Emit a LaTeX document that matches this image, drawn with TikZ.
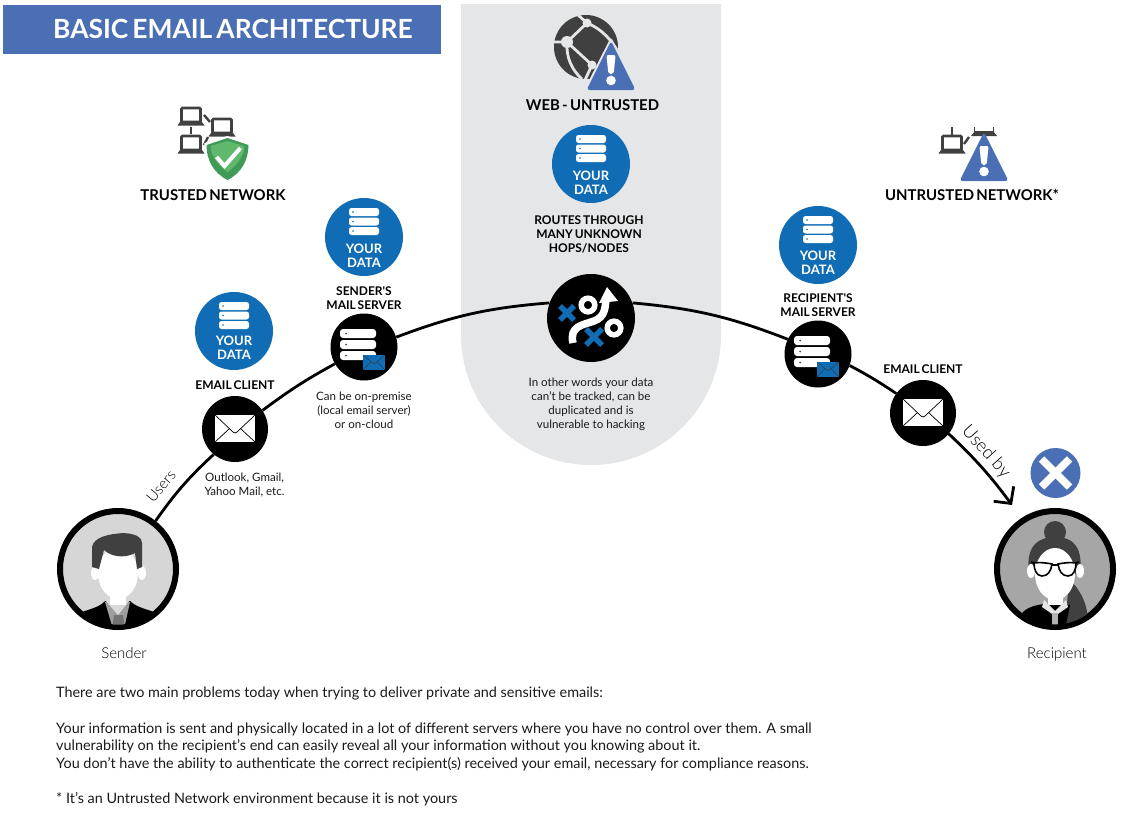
\documentclass[tikz,border=0pt]{standalone}
\usepackage{fontspec}
\setmainfont{Lato}
\newfontfamily\latolight{Lato Light}
\newfontfamily\latosemi[WordSpace=0.62]{Lato Bold}
\usetikzlibrary{arrows.meta}
\definecolor{bluedata}{HTML}{106DB5}
\definecolor{bluehead}{HTML}{4A6FB5}
\definecolor{panelgray}{HTML}{E5E6E8}
\definecolor{icondark}{HTML}{404040}
\definecolor{shieldgreen}{HTML}{5FB86C}
\definecolor{shielddark}{HTML}{3F9A57}
\newcommand{\fs}[1]{\fontsize{#1}{#1}\selectfont}
\tikzset{
 x=1pt,y=-1pt,
 datacircle/.style={circle,fill=bluedata,minimum size=78pt,inner sep=0pt},
 blackcircle/.style={circle,fill=black,minimum size=66pt,inner sep=0pt},
 person/.style={circle,draw=black,line width=6pt,minimum size=116pt,inner sep=0pt},
 link/.style={draw=black,line width=2.8pt},
 boldlabel/.style={font=\fs{12}\latosemi,align=center,text=black,inner sep=0pt,execute at begin node={\baselineskip=14pt}},
 smalllabel/.style={font=\fs{11.55},align=center,text=black!90,inner sep=0pt,execute at begin node={\baselineskip=14pt}},
 headlabel/.style={font=\fs{14.9}\latosemi,text=black,inner sep=0pt},
 lightlabel/.style={font=\fs{15}\latolight,text=black,inner sep=0pt},
 bodytext/.style={font=\fs{14.4},anchor=west,text=black!90,inner sep=0pt},
 yourdata/.style={font=\fs{13}\bfseries,text=white,align=center,inner sep=0pt,execute at begin node={\baselineskip=14pt}},
 pics/databars/.style={code={
   \foreach \yy in {-29,-19.5,-10}{\fill[white,rounded corners=2.5pt] (-15,\yy) rectangle (15,\yy+8);
     \fill[bluedata] (-11,\yy+4) circle[radius=0.8pt];}
 }},
 pics/serverbars/.style={code={
   \foreach \yy in {-18,-7,4}{\fill[white,rounded corners=3pt] (-24,\yy) rectangle (12,\yy+9);
     \fill[black!70] (-18,\yy+4.5) circle[radius=1pt];}
   \fill[bluedata] (-1,8) rectangle (21,23);
   \draw[black!80,line width=.4pt] (-1,8) -- (10,17) -- (21,8) (-1,23) -- (7,14.5) (21,23) -- (13,14.5);
 }},
 pics/envelope/.style={code={
   \fill[white] (-20,-14) rectangle (20,13);
   \draw[black,line width=.7pt] (-20,-14) -- (-2,3) -- (0,4) -- (2,3) -- (20,-14) (-20,13) -- (-6,0) (20,13) -- (6,0);
 }},
 pics/laptop/.style={code={
   \draw[icondark,line width=2.6pt,fill=white,rounded corners=1pt] (-9.5,-9) rectangle (9.5,5);
   \fill[icondark] (-11,5) -- (11,5) -- (13.5,8.5) -- (-13.5,8.5) -- cycle;
 }},
 pics/warn/.style={code={
   \fill[bluehead,rounded corners=3pt] (0,-3) -- (24.5,46) -- (-24.5,46) -- cycle;
   \fill[white,rounded corners=2pt] (-4.6,11) -- (4.6,11) -- (2.6,30) -- (-2.6,30) -- cycle;
   \fill[white] (0,36.5) circle[radius=4.8pt];
 }}
}
\begin{document}
\begin{tikzpicture}
\useasboundingbox (0,0) rectangle (1124,819);
% header
\fill[bluehead] (3,5) rectangle (441,54);
\node[font=\fs{26.4}\latosemi,text=white,inner sep=0pt,anchor=west] (title) at (53,28.5) {BASIC EMAIL ARCHITECTURE};
% panel
\fill[panelgray] (461,4) -- (721,4) -- (721,335) arc[start angle=0,end angle=-180,radius=130pt] -- cycle;

% nodes
\node[person,fill=black!16] (sender) at (118,569) {};
\node[person,fill=black!35] (recipient) at (1055,569) {};
\node[blackcircle] (clienta) at (235,429) {};
\node[blackcircle,minimum size=67pt] (servera) at (364,347) {};
\node[blackcircle,minimum size=88pt] (hub) at (591,318) {};
\node[blackcircle,minimum size=67pt] (serverb) at (818,354) {};
\node[blackcircle] (clientb) at (923,413) {};
\node[datacircle] (dataa) at (234,331) {};
\node[datacircle] (datab) at (364,237) {};
\node[datacircle] (datac) at (591,164) {};
\node[datacircle] (datad) at (818,245) {};
\coordinate (tip) at (1012,505);

% connectors
\draw[link] (sender.52) to[bend left=6] (clienta.230);
\draw[link] (clienta.34) to[bend left=4] (servera.210);
\draw[link] (servera.17) to[bend left=8] (hub.160);
\draw[link] (hub.20) to[bend left=8] (serverb.154);
\draw[link] (serverb.-20) to[bend left=3] (clientb.144);
\draw[link,-{Straight Barb[length=12pt,width=25pt,line width=2.8pt]}] (clientb.-39) to[bend left=5] (tip);

% icons on nodes
\foreach \c in {dataa,datab,datac,datad}{\path (\c) pic {databars};}
\node[yourdata] (tdataa) at (234,348) {YOUR\\DATA};
\node[yourdata] (tdatab) at (364,256) {YOUR\\DATA};
\node[yourdata] (tdatac) at (591,183) {YOUR\\DATA};
\node[yourdata] (tdatad) at (818,263) {YOUR\\DATA};
\path (clienta) pic {envelope};
\path (clientb) pic {envelope};
\path (servera) pic {serverbars};
\path (serverb) pic {serverbars};

% hub icon
\begin{scope}[shift={(591,318)}]
 \draw[white,line width=7.5pt] (-18,25) .. controls (-22,8) and (-8,7) .. (3,3) .. controls (14,-1) and (14,-10) .. (15,-18);
 \fill[white] (16,-31) -- (27,-17) -- (8,-15) -- cycle;
 \draw[white,line width=5.5pt] (-3,-13) circle[radius=6.8pt];
 \draw[white,line width=5.5pt] (23,10) circle[radius=6.8pt];
 \draw[bluedata,line width=5.5pt] (-31,-12) -- (-17,2) (-17,-12) -- (-31,2);
 \draw[bluedata,line width=5.5pt] (-5,11) -- (11,27) (11,11) -- (-5,27);
\end{scope}

% sender avatar
\begin{scope}
 \clip (118,569) circle[radius=55.5pt];
 \begin{scope}[shift={(118,569)}]
  \fill[black] (-36,43) .. controls (-28,40) and (-18,38) .. (-13,32) -- (12,32) .. controls (18,38) and (28,40) .. (36,43) -- (60,60) -- (-60,60) -- cycle;
  \fill[black!38] (-13,33) -- (-5,60) -- (6,60) -- (12,33) -- cycle;
  \fill[black!55] (-4,46) -- (5,46) -- (7,60) -- (-6,60) -- cycle;
  \fill[black!15] (-13,31) -- (0,46) -- (12,31) -- cycle;
  \fill[white] (-23,4) ellipse[x radius=4pt,y radius=7pt];
  \fill[white] (24,4) ellipse[x radius=4pt,y radius=7pt];
  \fill[white] (-8,18) rectangle (8,36);
  \fill[white] (0,4) ellipse[x radius=20pt,y radius=26pt];
  \fill[icondark] (-19,0) -- (-26,-2) -- (-26,-22) .. controls (-24,-32) and (-10,-35) .. (6,-36) .. controls (18,-35) and (24,-32) .. (24,-26) -- (24,-2) -- (19,0) -- (17,-16) .. controls (10,-12) and (-4,-10) .. (-14,-19) -- cycle;
 \end{scope}
\end{scope}
% recipient avatar
\begin{scope}
 \clip (1055,569) circle[radius=55.5pt];
 \begin{scope}[shift={(1055,569)}]
  \fill[icondark] (0,-37) circle[radius=11pt];
  \fill[icondark] (-26,5) .. controls (-30,-25) and (-15,-32) .. (0,-32) .. controls (20,-32) and (28,-20) .. (25,5) -- cycle;
  \fill[icondark] (14,10) .. controls (30,25) and (35,45) .. (32,60) -- (10,60) -- cycle;
  \fill[black] (-32,43) .. controls (-25,36) and (-14,36) .. (-8,34) -- (15,36) -- (10,60) -- (-45,60) -- cycle;
  \fill[white] (-7,20) rectangle (8,36);
  \fill[black!10] (-11,31) -- (0,42) -- (11,31) -- (13,38) -- (0,47) -- (-13,38) -- cycle;
  \fill[black!30] (-3,44) -- (3,44) -- (3,60) -- (-3,60) -- cycle;
  \fill[white] (-24,2) ellipse[x radius=4pt,y radius=7pt];
  \fill[white] (25,2) ellipse[x radius=4pt,y radius=7pt];
  \fill[white] (0,5) ellipse[x radius=20pt,y radius=26pt];
  \draw[black,line width=1.6pt,fill=white] (-21,-6) .. controls (-15,-7) and (-8,-6) .. (-3,-5) .. controls (-4,2) and (-7,7) .. (-13,7) .. controls (-19,7) and (-21,0) .. (-21,-6) -- cycle;
  \draw[black,line width=1.6pt,fill=white] (21,-6) .. controls (15,-7) and (8,-6) .. (3,-5) .. controls (4,2) and (7,7) .. (13,7) .. controls (19,7) and (21,0) .. (21,-6) -- cycle;
  \draw[black,line width=1.6pt] (-3,-4) -- (3,-4) (-21,-6) -- (-24,-7) (21,-6) -- (24,-7);
 \end{scope}
\end{scope}

% trusted icon
\path (191,117) pic {laptop};
\path (222,128) pic {laptop};
\path (191,145) pic {laptop};
\draw[icondark,line width=2.4pt] (191,127) -- (191,134);
\draw[icondark,line width=2.4pt] (204,115) -- (210,122);
\draw[icondark,line width=2.4pt] (204,145) -- (208,137);
\begin{scope}[shift={(227.5,158)}]
 \fill[white] (0,-22) -- (23,-15) .. controls (24,2) and (16,17) .. (0,25) .. controls (-16,17) and (-24,2) .. (-23,-15) -- cycle;
 \fill[shielddark] (0,-20) -- (21,-13) .. controls (21,2) and (14,15) .. (0,22) .. controls (-14,15) and (-21,2) .. (-21,-13) -- cycle;
 \fill[shieldgreen] (0,-17) -- (17,-12) .. controls (17,-2) and (8,9) .. (0,14) .. controls (-8,9) and (-17,-2) .. (-17,-12) -- cycle;
 \draw[white,line width=4pt] (-11,-1) -- (-3,8) -- (13,-10);
\end{scope}

% web icon
\begin{scope}
 \fill[icondark] (586,47) circle[radius=32pt];
 \draw[panelgray,line width=2.8pt] (567,42) -- (587,23) (567,42) -- (592,65) (567,42) -- (554,42)
   (567,42) .. controls (566,58) and (572,70) .. (582,79)
   (587,23) -- (578,15)
   (587,23) .. controls (604,30) and (612,42) .. (617,50)
   (592,65) -- (585,80);
 \fill[panelgray] (567,42) circle[radius=6pt] (587,23) circle[radius=4.5pt] (592,65) circle[radius=4.5pt];
 \fill[panelgray,rounded corners=3pt] (611,37) -- (640,94) -- (582,94) -- cycle;
\end{scope}
\path (611,44) pic {warn};

% untrusted icon
\path (952,145) pic {laptop};
\draw[icondark,line width=2.4pt] (952,127) -- (952,135);
\draw[icondark,line width=2.4pt] (964,144) -- (969,137);
\fill[icondark] (971,136) -- (975,131) -- (993,131) -- (997,136) -- cycle;
\draw[icondark,line width=1.8pt] (974.5,127) -- (974.5,132) (993.5,127) -- (993.5,132);
\path (984,135) pic {warn};

% X mark
\node[circle,fill=bluehead,minimum size=50pt,inner sep=0pt] (xmark) at (1055.5,473) {};
\draw[white,line width=7.5pt] ([shift={(-14,-14)}]xmark.center) -- ([shift={(14,14)}]xmark.center);
\draw[white,line width=7.5pt] ([shift={(14,-14)}]xmark.center) -- ([shift={(-14,14)}]xmark.center);

% labels
\node[headlabel] (ltrusted) at (213,195) {TRUSTED NETWORK};
\node[headlabel] (lweb) at (592.5,105) {WEB - UNTRUSTED};
\node[headlabel] (luntrusted) at (972,195) {UNTRUSTED NETWORK*};
\node[boldlabel] (lclienta) at (235,385.5) {EMAIL CLIENT};
\node[boldlabel] (lservera) at (364,298) {SENDER'S\\MAIL SERVER};
\node[boldlabel] (lroutes) at (589,234) {ROUTES THROUGH\\MANY UNKNOWN\\HOPS/NODES};
\node[boldlabel] (lserverb) at (818,305) {RECIPIENT'S\\MAIL SERVER};
\node[boldlabel] (lclientb) at (923,369.5) {EMAIL CLIENT};
\node[smalllabel] (noutlook) at (244.5,485) {Outlook, Gmail,\\Yahoo Mail, etc.};
\node[smalllabel] (npremise) at (364,410) {Can be on-premise\\(local email server)\\or on-cloud};
\node[smalllabel] (nwords) at (591,404.5) {In other words your data\\can't be tracked, can be\\duplicated and is\\vulnerable to hacking};
\node[lightlabel,rotate=50] (lusers) at (161,486) {Users};
\node[lightlabel,font=\fs{18}\latolight,rotate=-48] (lused) at (986,452) {Used by};
\node[lightlabel] (lsender) at (124,653) {Sender};
\node[lightlabel] (lrecipient) at (1057,654) {Recipient};
% body
\node[bodytext] (b1) at (56,693.5) {There are two main problems today when trying to deliver private and sensitive emails:};
\node[bodytext] (b2) at (56,729.5) {Your information is sent and physically located in a lot of different servers where you have no control over them. A small};
\node[bodytext] (b3) at (56,746.5) {vulnerability on the recipient's end can easily reveal all your information without you knowing about it.};
\node[bodytext] (b4) at (56,764.5) {You don't have the ability to authenticate the correct recipient(s) received your email, necessary for compliance reasons.};
\node[bodytext] (b5) at (56,799.5) {* It's an Untrusted Network environment because it is not yours};
\end{tikzpicture}
\end{document}
